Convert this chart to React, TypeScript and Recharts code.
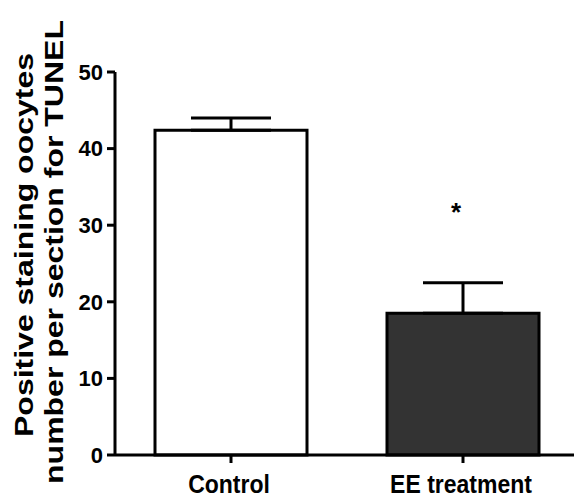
import { BarChart, Bar, XAxis, YAxis, ErrorBar, Cell, LabelList } from 'recharts';

const categories = ['Control', 'EE treatment'];
const means = [42.4, 18.5];
const sems = [1.6, 4.0];
const marks = ['', '*'];
const yTicks = [0, 10, 20, 30, 40, 50];

const data = categories.map((name, i) => ({
  name,
  value: means[i],
  err: [0, sems[i]],
  sig: marks[i],
}));

const barFills = ['#ffffff', '#333333'];
const font = '"Liberation Sans", Arial, sans-serif';

function YLabel() {
  return (
    <g fontFamily={font} fontWeight="bold" fontSize={32} fill="#000">
      <text transform="translate(33, 245) rotate(-90) scale(1, 0.78)" textAnchor="middle">
        Positive staining oocytes
      </text>
      <text transform="translate(63, 252) rotate(-90) scale(1, 0.78)" textAnchor="middle">
        number per section for TUNEL
      </text>
    </g>
  );
}

// category labels look a bit condensed in the original
function CategoryTick(props: any) {
  const { x, y, payload } = props;
  return (
    <text
      transform={`translate(${x - 2}, ${y + 18}) scale(0.92, 1)`}
      textAnchor="middle"
      fontFamily={font}
      fontWeight="bold"
      fontSize={25}
      fill="#000"
    >
      {payload.value}
    </text>
  );
}

function Star(props: any) {
  const { x, y, width, value } = props;
  if (!value) return null;
  return (
    <text
      x={x + width / 2 - 7}
      y={y - 92}
      textAnchor="middle"
      fontFamily={font}
      fontWeight="bold"
      fontSize={26}
      fill="#000"
    >
      {value}
    </text>
  );
}

export default function App() {
  return (
    <div
      style={{
        position: 'absolute',
        left: 0,
        top: 0,
        width: 574,
        height: 499,
        overflow: 'hidden',
        background: '#fff',
      }}
    >
      <BarChart width={581} height={499} data={data} margin={{ top: 72, right: 2, left: 0, bottom: 0 }}>
        <XAxis
          dataKey="name"
          height={44}
          tickSize={8}
          tickMargin={12}
          axisLine={{ stroke: '#000', strokeWidth: 3 }}
          tickLine={{ stroke: '#000', strokeWidth: 3 }}
          tick={<CategoryTick />}
        />
        <YAxis
          width={115}
          domain={[0, 50]}
          ticks={yTicks}
          tickSize={8}
          tickMargin={4}
          axisLine={{ stroke: '#000', strokeWidth: 3 }}
          tickLine={{ stroke: '#000', strokeWidth: 3 }}
          tick={{ fill: '#000', fontSize: 22, fontWeight: 700, fontFamily: font }}
          label={{ content: () => <YLabel /> }}
        />
        <Bar dataKey="value" barSize={152} stroke="#000" strokeWidth={3} isAnimationActive={false}>
          {data.map((d, i) => (
            <Cell key={d.name} fill={barFills[i]} />
          ))}
          <ErrorBar dataKey="err" width={40} stroke="#000" strokeWidth={3} isAnimationActive={false} />
          <LabelList dataKey="sig" content={<Star />} />
        </Bar>
      </BarChart>
    </div>
  );
}
